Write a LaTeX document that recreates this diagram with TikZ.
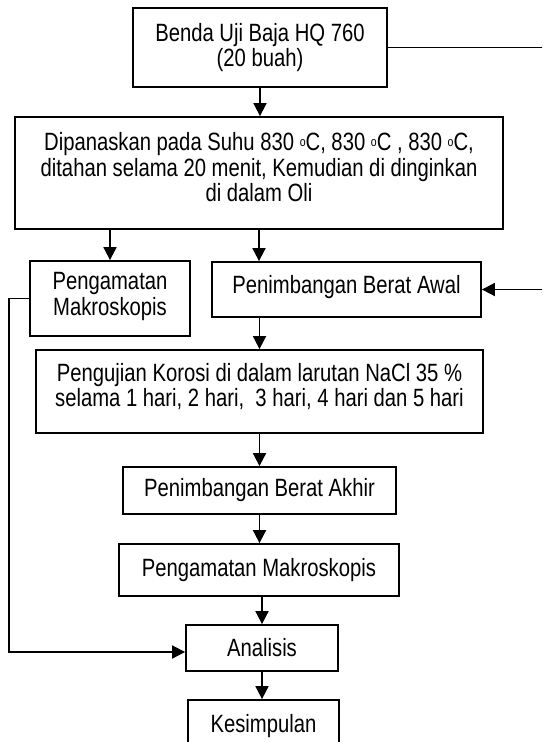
\documentclass[tikz,border=0pt]{standalone}
\usepackage{fontspec}
\setmainfont{Liberation Sans}
\usepackage{graphicx}
\usetikzlibrary{arrows.meta,calc}
\newcommand\degsym{\raisebox{0.3ex}{\fontsize{13}{13}\selectfont o}}
\newcommand\T[2]{\raisebox{#1}[\height][\depth]{\scalebox{0.81}[1]{\begin{tabular}{@{}c@{}}#2\end{tabular}}}}
\tikzset{
  box/.style={draw=black, line width=1.8pt, rectangle, inner sep=0pt,
    font=\fontsize{25}{24.5}\selectfont, text=black},
  conn/.style={draw=black, line width=1.8pt},
  arr/.style={conn, -{Triangle[width=13pt,length=13pt]}}
}
\begin{document}
\begin{tikzpicture}[x=1pt,y=1pt]
\useasboundingbox (0,0) rectangle (542,-742);
\clip (0,0) rectangle (542,-742);
\node[box, minimum width=254pt, minimum height=79pt] (b1) at (260,-47.5)
  {\T{-1pt}{Benda Uji Baja HQ 760\\[0pt](20 buah)}};
\node[box, minimum width=488pt, minimum height=112pt] (b2) at (259,-173)
  {\T{2pt}{Dipanaskan pada Suhu 830 \degsym C, 830 \degsym C , 830 \degsym C,\\ditahan selama 20 menit, Kemudian di dinginkan\\di dalam Oli}};
\node[box, minimum width=160pt, minimum height=75pt] (mak1) at (110,-298.5)
  {\T{1pt}{Pengamatan\\Makroskopis}};
\node[box, minimum width=269pt, minimum height=55pt] (awal) at (346.5,-289.5)
  {\T{1pt}{Penimbangan Berat Awal}};
\node[box, minimum width=447pt, minimum height=83pt] (uji) at (259.5,-391.5)
  {\T{3pt}{Pengujian Korosi di dalam larutan NaCl 35 \%\\selama 1 hari, 2 hari,\ \ 3 hari, 4 hari dan 5 hari}};
\node[box, minimum width=273pt, minimum height=47pt] (akhir) at (259.5,-490.5)
  {\T{-1pt}{Penimbangan Berat Akhir}};
\node[box, minimum width=280pt, minimum height=52pt] (mak2) at (259,-570)
  {\T{-1pt}{Pengamatan Makroskopis}};
\node[box, minimum width=152pt, minimum height=46pt] (anal) at (262,-648)
  {\T{-3pt}{Analisis}};
\node[box, minimum width=151pt, minimum height=60pt] (kes) at (263.5,-730)
  {\T{3pt}{Kesimpulan}};
\coordinate (rc) at (545,0);
\coordinate (lc) at (9,0);
\draw[arr] (b1.south) -- (b1.south |- b2.north);
\draw[arr] (b2.south -| mak1.north) -- (mak1.north);
\draw[arr] (b2.south) -- (b2.south |- awal.north);
\draw[arr] (awal.south -| uji.north) -- (uji.north);
\draw[arr] (uji.south) -- (akhir.north);
\draw[arr] (akhir.south) -- (akhir.south |- mak2.north);
\draw[arr] (mak2.south -| anal.north) -- (anal.north);
\draw[arr] (anal.south) -- (anal.south |- kes.north);
\draw[arr] (b1.east) -- (b1.east -| rc) -- (awal.east -| rc) -- (awal.east);
\draw[arr] (mak1.west) -- (mak1.west -| lc) -- ($(anal.west -| lc)+(0,-4)$) -- ($(anal.west)+(0,-4)$);
\end{tikzpicture}
\end{document}
